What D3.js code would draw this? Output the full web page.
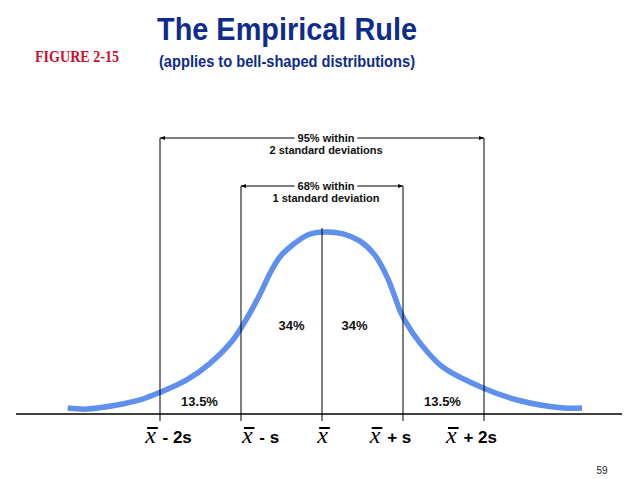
<!DOCTYPE html>
<html>
<head>
<meta charset="utf-8">
<script src="https://cdn.jsdelivr.net/npm/d3@7"></script>
<style>
  body { margin: 0; background: #fff; }
  text { font-family: Arial, "Liberation Sans", sans-serif; }
</style>
</head>
<body>
<div id="chart-area"></div>
<script>
// curve: position in standard deviations, relative height
const curveZ = [-3.14, -2.9, -2.53, -2.25, -2.02, -1.67, -1.38, -1.1, -0.89, -0.77, -0.64, -0.52, -0.36, -0.17, 0.02,
  0.26, 0.47, 0.65, 0.81, 0.96, 1.02, 1.21, 1.49, 1.99, 2.41, 2.98, 3.21]
const curveH = [0.033, 0.027, 0.049, 0.077, 0.115, 0.187, 0.28, 0.407, 0.555, 0.654, 0.775, 0.863, 0.93, 0.985, 1.0,
  0.99, 0.95, 0.874, 0.747, 0.571, 0.516, 0.39, 0.258, 0.143, 0.077, 0.033, 0.033]

const tickZ = [-2, -1, 0, 1, 2]
const tickOps = [' - 2s', ' - s', '', ' + s', ' + 2s']
const labelShift = [9, 20, 2, -12, -12]

const bands = [
  { from: -2, to: 2, lines: ['95% within', '2 standard deviations'], level: 0 },
  { from: -1, to: 1, lines: ['68% within', '1 standard deviation'], level: 1 }
]
const areaZ = [-1.5, -0.5, 0.5, 1.5]
const areaLabels = ['13.5%', '34%', '34%', '13.5%']

const width = 638
const height = 479
const serif = '"Liberation Serif", "Times New Roman", serif'

const svg = d3.select('#chart-area').append('svg')
  .attr('width', width)
  .attr('height', height)

const x = d3.scaleLinear()
  .domain([-2, 2])
  .range([160, 484])

const y = d3.scaleLinear()
  .domain([0, 1])
  .range([414, 232])

// titles
svg.append('text')
  .attr('x', 287).attr('y', 40)
  .attr('text-anchor', 'middle')
  .attr('font-size', '32px').attr('font-weight', 'bold')
  .attr('fill', '#0d2c8c')
  .attr('textLength', 260).attr('lengthAdjust', 'spacingAndGlyphs')
  .text('The Empirical Rule')

svg.append('text')
  .attr('x', 287).attr('y', 67)
  .attr('text-anchor', 'middle')
  .attr('font-size', '16px').attr('font-weight', 'bold')
  .attr('fill', '#0d2c8c')
  .attr('textLength', 256).attr('lengthAdjust', 'spacingAndGlyphs')
  .text('(applies to bell-shaped distributions)')

svg.append('text')
  .attr('x', 35).attr('y', 62)
  .style('font-family', serif)
  .attr('font-size', '16px').attr('font-weight', 'bold')
  .attr('fill', '#c8102e')
  .attr('textLength', 84).attr('lengthAdjust', 'spacingAndGlyphs')
  .text('FIGURE 2-15')

svg.append('text')
  .attr('x', 602).attr('y', 474)
  .attr('text-anchor', 'middle')
  .attr('font-size', '10px')
  .attr('fill', '#222')
  .text('59')

// baseline axis
svg.append('line')
  .attr('x1', 16).attr('x2', 622)
  .attr('y1', y(0)).attr('y2', y(0))
  .attr('stroke', '#000').attr('stroke-width', 1.5)

// bell curve
const line = d3.line()
  .x((d, i) => x(curveZ[i]))
  .y(d => y(d))
  .curve(d3.curveCatmullRom)

svg.append('path')
  .datum(curveH)
  .attr('d', line)
  .attr('fill', 'none')
  .attr('stroke', '#6090ee')
  .attr('stroke-width', 5.5)

// vertical guides
const bandTop = [138, 186]
const guideTop = z => z === 0 ? y(1) - 4 : bandTop[Math.abs(z) === 2 ? 0 : 1]
svg.selectAll('.guide')
  .data(tickZ)
  .enter().append('line')
  .attr('class', 'guide')
  .attr('x1', d => x(d)).attr('x2', d => x(d))
  .attr('y1', d => guideTop(d))
  .attr('y2', y(0) + 7)
  .attr('stroke', '#000').attr('stroke-width', 1)

// arrows
const defs = svg.append('defs')
defs.append('marker')
  .attr('id', 'arr')
  .attr('viewBox', '0 0 10 10')
  .attr('refX', 10).attr('refY', 5)
  .attr('markerWidth', 5).attr('markerHeight', 5)
  .attr('orient', 'auto-start-reverse')
  .append('path')
  .attr('d', 'M0,1 L10,5 L0,9 Z')
  .attr('fill', '#000')

bands.forEach(b => {
  const yy = bandTop[b.level]
  const g = svg.append('g')
  const mid = (x(b.from) + x(b.to)) / 2 + 4
  const t = g.append('text')
    .attr('text-anchor', 'middle')
    .attr('font-size', '11px').attr('font-weight', 'bold')
    .attr('fill', '#111')
  t.append('tspan').attr('x', mid).attr('y', yy + 4).text(b.lines[0])
  t.append('tspan').attr('x', mid).attr('y', yy + 16).text(b.lines[1])
  const w = t.select('tspan').node().getComputedTextLength() / 2 + 3
  g.append('line')
    .attr('x1', mid - w).attr('x2', x(b.from))
    .attr('y1', yy).attr('y2', yy)
    .attr('stroke', '#000').attr('marker-end', 'url(#arr)')
  g.append('line')
    .attr('x1', mid + w).attr('x2', x(b.to))
    .attr('y1', yy).attr('y2', yy)
    .attr('stroke', '#000').attr('marker-end', 'url(#arr)')
})

// area percentages
svg.selectAll('.pct')
  .data(areaLabels)
  .enter().append('text')
  .attr('class', 'pct')
  .attr('x', (d, i) => x(areaZ[i]) + (Math.abs(areaZ[i]) > 1 ? -1 : (areaZ[i] < 0 ? 10 : -8)))
  .attr('y', (d, i) => Math.abs(areaZ[i]) > 1 ? 406 : 330)
  .attr('text-anchor', 'middle')
  .attr('font-size', '13px').attr('font-weight', 'bold')
  .attr('fill', '#111')
  .text(d => d)

// x-bar tick labels
tickZ.forEach((z, i) => {
  const g = svg.append('g')
  const xv = g.append('text')
    .attr('x', 0).attr('y', 443)
    .style('font-family', serif)
    .style('font-style', 'italic')
    .style('font-weight', 'normal')
    .attr('font-size', '24px')
    .attr('fill', '#000')
    .text('x')
  const xw = xv.node().getComputedTextLength()
  g.append('line')
    .attr('x1', 2).attr('x2', xw + 2)
    .attr('y1', 428).attr('y2', 428)
    .attr('stroke', '#000').attr('stroke-width', 2)
  if (tickOps[i]) {
    g.append('text')
      .attr('x', xw + 2).attr('y', 443)
      .attr('font-size', '17px').attr('font-weight', 'bold')
      .attr('fill', '#000')
      .style('white-space', 'pre')
      .text(tickOps[i])
  }
  const bw = g.node().getBBox().width
  g.attr('transform', `translate(${x(z) - bw / 2 + labelShift[i]},0)`)
})
</script>
</body>
</html>
